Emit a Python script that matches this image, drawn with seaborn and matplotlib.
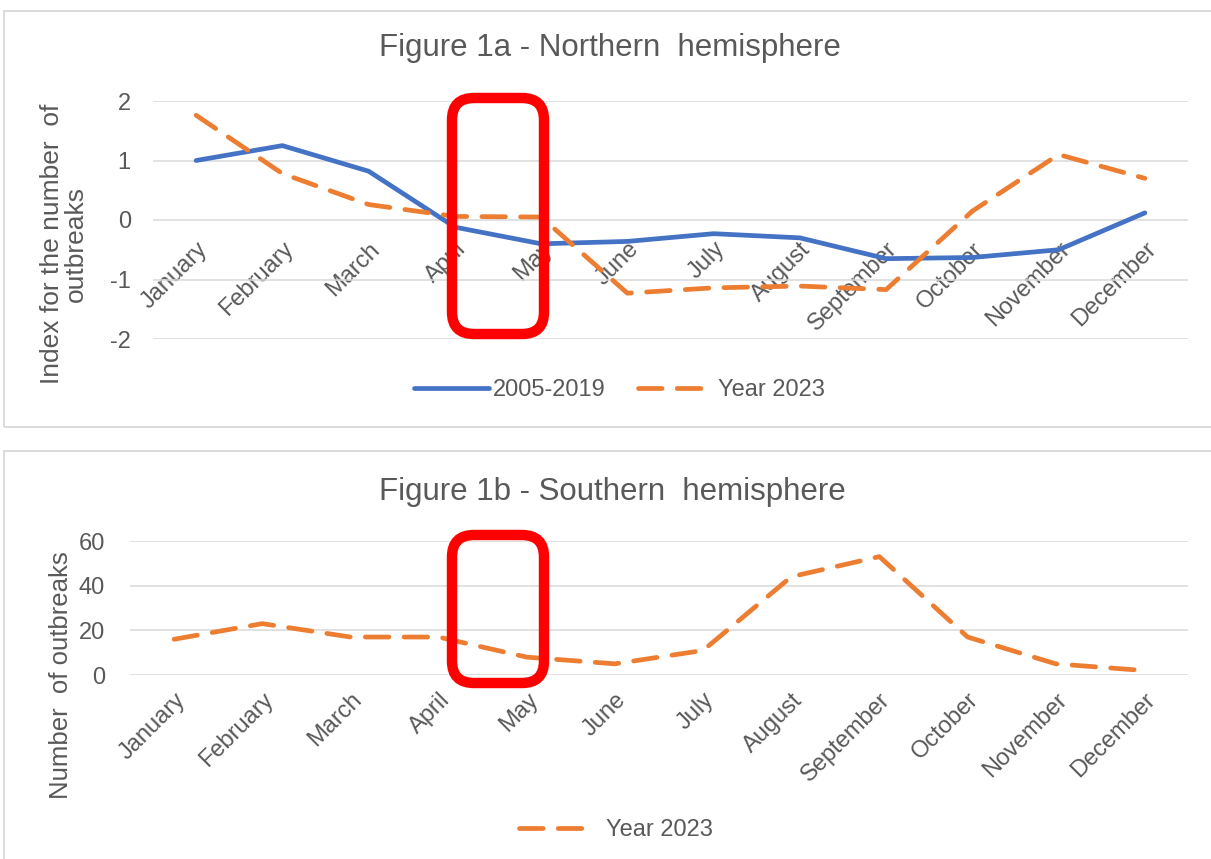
import numpy as np
import pandas as pd
import matplotlib.pyplot as plt
import seaborn as sns
from matplotlib.patches import FancyBboxPatch, Rectangle
from matplotlib.transforms import IdentityTransform

# data
months = ["January", "February", "March", "April", "May", "June", "July",
          "August", "September", "October", "November", "December"]
north_2005_2019 = [1.0, 1.25, 0.82, -0.12, -0.4, -0.36, -0.23, -0.3, -0.65, -0.63, -0.5, 0.12]
north_2023 = [1.76, 0.78, 0.26, 0.06, 0.05, -1.23, -1.14, -1.11, -1.17, 0.15, 1.1, 0.7]
south_2023 = [16, 23, 17, 17, 8, 5, 11, 44, 53, 17, 5, 2]

north_ticks = [-2, -1, 0, 1, 2]
south_ticks = [0, 20, 40, 60]

BLUE = "#4472C4"
ORANGE = "#ED7D31"
TEXT = "#595959"
GRID = "#D9D9D9"
RED = "#FF0000"

sns.set_theme(style="white")
plt.rcParams['font.family'] = ['Liberation Sans', 'DejaVu Sans']
plt.rcParams['axes.unicode_minus'] = False

W, H = 1211, 859
fig = plt.figure(figsize=(W / 100, H / 100), dpi=100)


def px_axes(left, top, right, bottom):
    return fig.add_axes([left / W, 1 - bottom / H, (right - left) / W, (bottom - top) / H])


def style_axes(ax, ticks, ypad, xpad):
    ax.set_xlim(-0.5, 11.5)
    ax.set_ylim(ticks[0], ticks[-1])
    ax.set_yticks(ticks)
    ax.set_xticks(np.arange(len(months)))
    ax.set_xticklabels(months, rotation=45, ha="right", va="top", rotation_mode="anchor")
    ax.grid(axis="y", color=GRID, lw=1.1)
    ax.set_axisbelow(True)
    for s in ax.spines.values():
        s.set_visible(False)
    ax.tick_params(axis="both", length=0, labelsize=17, labelcolor=TEXT)
    ax.tick_params(axis="y", pad=ypad)
    ax.tick_params(axis="x", pad=xpad)
    ax.set_xlabel("")
    ax.set_ylabel("")


def dashed(line):
    line.set_dashes((5, 3.2))
    line.set_dash_capstyle("round")
    line.set_solid_capstyle("round")


# panel frames
for y0, y1 in [(11, 427), (451, 900)]:
    fig.patches.append(Rectangle((4, H - y1), 1300, y1 - y0, transform=IdentityTransform(),
                                 fill=False, edgecolor=GRID, lw=1.3))

# Figure 1a
north = pd.DataFrame({"idx": np.arange(12), "2005-2019": north_2005_2019, "Year 2023": north_2023})
ax1 = px_axes(153, 101, 1188, 339)
ax1.spines["bottom"].set_position(("data", 0))
sns.lineplot(data=north, x="idx", y="2005-2019", color=BLUE, lw=3.4, label="2005-2019", ax=ax1)
sns.lineplot(data=north, x="idx", y="Year 2023", color=ORANGE, lw=3.4, label="Year 2023", ax=ax1)
ax1.lines[0].set_solid_capstyle("round")
dashed(ax1.lines[1])
style_axes(ax1, north_ticks, 16, 13)
ax1.legend(loc="center", bbox_to_anchor=(619 / W, 1 - 390 / H), bbox_transform=fig.transFigure,
           ncol=2, frameon=False, fontsize=17, labelcolor=TEXT, handlelength=3.2,
           columnspacing=1.4, handletextpad=0.15)

fig.text(610 / W, 1 - 48 / H, "Figure 1a - Northern  hemisphere", ha="center", va="center",
         fontsize=22.5, color=TEXT)
fig.text(64 / W, 1 - 244 / H, "Index for the number  of\noutbreaks", rotation=90, ha="center",
         va="center", multialignment="center", fontsize=19, color=TEXT, linespacing=1.0)

# Figure 1b
south = pd.DataFrame({"idx": np.arange(12), "Year 2023": south_2023})
ax2 = px_axes(130, 541, 1188, 675)
sns.lineplot(data=south, x="idx", y="Year 2023", color=ORANGE, lw=3.4, label="Year 2023", ax=ax2)
dashed(ax2.lines[0])
style_axes(ax2, south_ticks, 18, 10)
ax2.legend(loc="center", bbox_to_anchor=(616 / W, 1 - 830 / H), bbox_transform=fig.transFigure,
           ncol=1, frameon=False, fontsize=17, labelcolor=TEXT, handlelength=3.2, handletextpad=0.5)

fig.text(612 / W, 1 - 492 / H, "Figure 1b - Southern  hemisphere", ha="center", va="center",
         fontsize=22.5, color=TEXT)
fig.text(61 / W, 1 - 675 / H, "Number  of outbreaks", rotation=90, ha="center",
         va="center", fontsize=18.5, color=TEXT)

# red highlight boxes around April-May
for x0, y0, x1, y1 in [(452, 98, 544, 334), (452, 535, 544, 683)]:
    fig.patches.append(FancyBboxPatch((x0, H - y1), x1 - x0, y1 - y0,
                                      boxstyle="round,pad=0,rounding_size=22",
                                      transform=IdentityTransform(), fill=False,
                                      edgecolor=RED, lw=7.5, zorder=10))

fig.savefig("out.png", dpi=100)
